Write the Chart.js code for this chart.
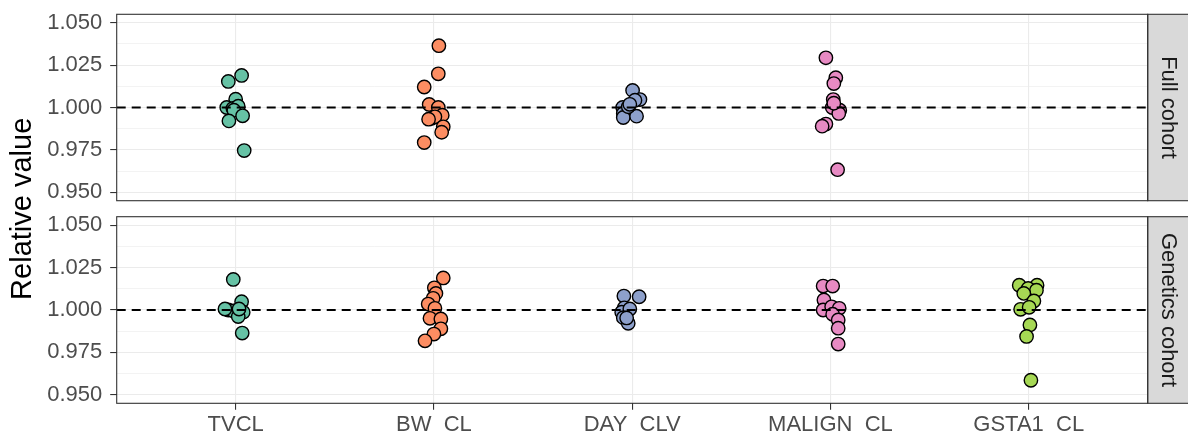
<!DOCTYPE html>
<html>
<head>
<meta charset="utf-8">
<script src="https://cdn.jsdelivr.net/npm/chart.js@4/dist/chart.umd.min.js"></script>
<style>
  html, body { margin: 0; padding: 0; background: #ffffff; }
  #wrap { position: relative; width: 1188px; height: 436px; overflow: hidden; }
  #wrap canvas { position: absolute; left: 0; top: 0; }
</style>
</head>
<body>
<div id="wrap">
  <canvas id="top" width="1188" height="436"></canvas>
  <canvas id="bottom" width="1188" height="436"></canvas>
</div>
<script>
// ---------- data ----------
const categories = ['TVCL', 'BW  CL', 'DAY  CLV', 'MALIGN  CL', 'GSTA1  CL'];
const panels = ['Full cohort', 'Genetics cohort'];
const yTicks = [0.950, 0.975, 1.000, 1.025, 1.050];
const yMinorTicks = [0.9625, 0.9875, 1.0125, 1.0375];
const referenceValue = 1.0;
const colors = ['#66C2A5', '#FC8D62', '#8DA0CB', '#E78AC3', '#A6D854'];

// Full cohort: relative values and horizontal jitter (category units)
const fullTVCL      = [1.0189, 1.0154, 1.0049, 1.0000, 0.9994, 1.0008, 0.9984, 0.9951, 0.9921, 0.9746];
const fullTVCLJit   = [0.030, -0.037, 0.000, -0.045, -0.014, 0.013, -0.009, 0.035, -0.034, 0.043];
const fullBW        = [1.0365, 1.0199, 1.0121, 1.0018, 1.0000, 0.9936, 0.9955, 0.9945, 0.9886, 0.9854, 0.9793, 0.9931];
const fullBWJit     = [0.025, 0.022, -0.049, -0.024, 0.022, -0.012, 0.042, 0.005, 0.047, 0.039, -0.049, -0.027];
const fullDAY       = [1.0101, 1.0047, 1.0043, 1.0000, 0.9965, 0.9941, 0.9949, 1.0004, 1.0019];
const fullDAYJit    = [0.002, 0.039, 0.014, -0.048, -0.045, -0.045, 0.022, -0.020, -0.012];
const fullMALIGN    = [1.0293, 1.0176, 1.0141, 1.0047, 1.0000, 0.9984, 0.9965, 0.9902, 0.9890, 0.9633, 1.0025];
const fullMALIGNJit = [-0.023, 0.027, 0.017, 0.014, 0.009, 0.047, 0.042, -0.023, -0.042, 0.036, 0.017];
const fullGSTA1     = [];
const fullGSTA1Jit  = [];

// Genetics cohort
const genTVCL       = [1.0180, 1.0049, 1.0000, 0.9994, 0.9987, 0.9961, 0.9864, 1.0006, 1.0006];
const genTVCLJit    = [-0.012, 0.030, -0.037, -0.012, 0.038, 0.013, 0.033, -0.054, 0.017];
const genBW         = [1.0189, 1.0131, 1.0098, 1.0069, 1.0035, 1.0010, 0.9951, 0.9947, 0.9889, 0.9858, 0.9818];
const genBWJit      = [0.047, 0.002, 0.010, -0.004, -0.029, 0.005, -0.020, 0.035, 0.035, 0.000, -0.045];
const genDAY        = [1.0082, 1.0078, 1.0013, 0.9987, 1.0006, 0.9955, 0.9922, 0.9953];
const genDAYJit     = [-0.042, 0.035, -0.040, -0.053, -0.012, -0.045, -0.020, -0.028];
const genMALIGN     = [1.0141, 1.0141, 1.0059, 1.0000, 1.0019, 1.0010, 0.9975, 0.9941, 0.9893, 0.9799];
const genMALIGNJit  = [-0.037, 0.011, -0.033, -0.037, 0.006, 0.044, 0.011, 0.039, 0.039, 0.039];
const genGSTA1      = [1.0146, 1.0146, 1.0127, 1.0117, 1.0098, 1.0053, 1.0004, 1.0016, 0.9912, 0.9844, 0.9586];
const genGSTA1Jit   = [-0.048, 0.042, -0.003, 0.039, -0.025, 0.026, -0.041, 0.002, 0.006, -0.011, 0.011];

const fullSeries = [[fullTVCL, fullTVCLJit], [fullBW, fullBWJit], [fullDAY, fullDAYJit], [fullMALIGN, fullMALIGNJit], [fullGSTA1, fullGSTA1Jit]];
const genSeries  = [[genTVCL, genTVCLJit], [genBW, genBWJit], [genDAY, genDAYJit], [genMALIGN, genMALIGNJit], [genGSTA1, genGSTA1Jit]];

// ---------- layout (pixels) ----------
const FONT = '"Liberation Sans", Arial, Helvetica, sans-serif';
const PLOT_LEFT = 116.7, PLOT_RIGHT = 1147.7;
const TOP_PANEL = [14.3, 200.7];
const BOT_PANEL = [216.7, 403.3];
const W = 1188, H = 436;

function isMajor(v) { return yTicks.some(t => Math.abs(t - v) < 1e-6); }

function buildDatasets(series) {
  const ds = [{
    type: 'line',
    data: [{ x: 0.4, y: referenceValue }, { x: 5.6, y: referenceValue }],
    borderColor: '#000000', borderWidth: 2.2, borderDash: [9, 6],
    pointRadius: 0, fill: false, order: -1
  }];
  series.forEach((s, i) => {
    const vals = s[0], jit = s[1];
    ds.push({
      type: 'scatter',
      label: categories[i],
      data: vals.map((v, j) => ({ x: i + 1 + jit[j], y: v })),
      backgroundColor: colors[i], borderColor: '#000000', borderWidth: 1.4,
      pointRadius: 6.7, pointHoverRadius: 6.7, order: 1
    });
  });
  return ds;
}

const framePlugin = {
  id: 'frame',
  afterDraw(chart, args, opts) {
    const ctx = chart.ctx, a = chart.chartArea;
    ctx.save();
    // strip
    ctx.fillStyle = '#D9D9D9';
    ctx.fillRect(a.right, a.top, W - a.right + 2, a.bottom - a.top);
    ctx.strokeStyle = '#333333';
    ctx.lineWidth = 1.1;
    ctx.strokeRect(a.right, a.top, W - a.right + 2, a.bottom - a.top);
    // panel border
    ctx.strokeRect(a.left, a.top, a.right - a.left, a.bottom - a.top);
    // strip label
    ctx.fillStyle = '#1A1A1A';
    ctx.font = '22px ' + FONT;
    ctx.textAlign = 'center';
    ctx.textBaseline = 'middle';
    ctx.translate((a.right + W) / 2, (a.top + a.bottom) / 2);
    ctx.rotate(Math.PI / 2);
    ctx.fillText(opts.label, 0, 0);
    ctx.restore();
    if (opts.yTitle) {
      ctx.save();
      ctx.fillStyle = '#000000';
      ctx.font = '29px ' + FONT;
      ctx.textAlign = 'center';
      ctx.textBaseline = 'middle';
      ctx.translate(23, (TOP_PANEL[0] + BOT_PANEL[1]) / 2);
      ctx.rotate(-Math.PI / 2);
      ctx.fillText(opts.yTitle, 0, 0);
      ctx.restore();
    }
  }
};

function makeChart(id, series, panelIdx) {
  const isBottom = panelIdx === 1;
  const area = isBottom ? BOT_PANEL : TOP_PANEL;
  const xAxisH = isBottom ? H - area[1] : 0;
  return new Chart(document.getElementById(id), {
    data: { datasets: buildDatasets(series) },
    plugins: [framePlugin],
    options: {
      responsive: false, animation: false, devicePixelRatio: 1,
      layout: { padding: { left: 0, right: W - PLOT_RIGHT, top: area[0], bottom: H - area[1] - xAxisH } },
      plugins: {
        legend: { display: false }, tooltip: { enabled: false },
        frame: { label: panels[panelIdx], yTitle: isBottom ? null : 'Relative value' }
      },
      scales: {
        x: {
          type: 'linear', min: 0.4, max: 5.6,
          afterBuildTicks: s => { s.ticks = categories.map((c, i) => ({ value: i + 1 })); },
          afterFit: s => { s.height = xAxisH; s.paddingLeft = 0; s.paddingRight = 0; },
          ticks: {
            display: isBottom, autoSkip: false, maxRotation: 0, padding: 2,
            color: '#4D4D4D', font: { family: FONT, size: 22 },
            callback: (v) => categories[Math.round(v) - 1]
          },
          grid: { color: '#EBEBEB', lineWidth: 1.1, drawTicks: isBottom, tickLength: 6.5, tickColor: '#333333', tickWidth: 1.1 },
          border: { display: false }
        },
        y: {
          type: 'linear', min: 0.945, max: 1.055,
          afterBuildTicks: s => {
            s.ticks = yTicks.concat(yMinorTicks).sort((p, q) => p - q).map(v => ({ value: v }));
          },
          afterFit: s => { s.width = PLOT_LEFT; s.paddingTop = 0; s.paddingBottom = 0; },
          ticks: {
            autoSkip: false, padding: 8, color: '#4D4D4D', font: { family: FONT, size: 22 },
            callback: v => isMajor(v) ? v.toFixed(3) : ''
          },
          grid: {
            color: '#EBEBEB',
            lineWidth: c => (c.tick && isMajor(c.tick.value)) ? 1.1 : 0.6,
            tickLength: 6.5,
            tickColor: c => (c.tick && isMajor(c.tick.value)) ? '#333333' : 'rgba(0,0,0,0)',
            tickWidth: 1.1
          },
          border: { display: false }
        }
      }
    }
  });
}

makeChart('top', fullSeries, 0);
makeChart('bottom', genSeries, 1);
</script>
</body>
</html>
